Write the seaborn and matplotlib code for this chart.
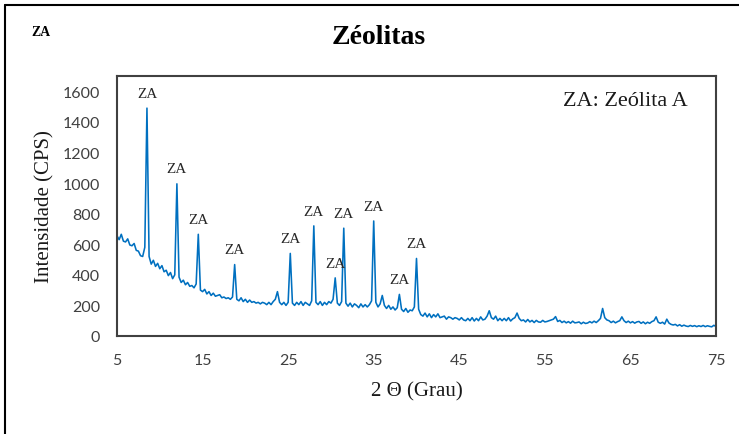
import numpy as np
import matplotlib
matplotlib.use("Agg")
import matplotlib.pyplot as plt
from matplotlib.lines import Line2D
import seaborn as sns

two_theta = np.arange(5, 75.01, 0.25)

cps = [
    655, 630, 665, 620, 615, 635, 595, 590, 605, 560, 555, 525, 520, 580, 1490, 520, 470, 495, 455, 475,   # 5 - 9.75
    440, 460, 420, 430, 395, 415, 375, 400, 995, 385, 350, 365, 335, 350, 325, 330, 315, 340, 665, 300,    # 10 - 14.75
    290, 305, 275, 290, 265, 280, 260, 265, 270, 250, 255, 245, 250, 240, 255, 467, 240, 230, 250, 225,    # 15 - 19.75
    240, 220, 235, 220, 225, 215, 220, 210, 220, 215, 205, 220, 205, 225, 240, 290, 220, 205, 220, 200,    # 20 - 24.75
    220, 540, 215, 200, 220, 205, 225, 200, 220, 210, 200, 230, 720, 220, 205, 225, 200, 220, 205, 225,    # 25 - 29.75
    215, 240, 380, 215, 200, 225, 705, 215, 195, 215, 190, 210, 200, 185, 210, 190, 205, 190, 205, 230,    # 30 - 34.75
    752, 220, 190, 210, 265, 200, 180, 200, 175, 190, 170, 185, 272, 175, 160, 180, 155, 170, 165, 190,    # 35 - 39.75
    507, 175, 140, 130, 150, 125, 145, 120, 140, 125, 145, 120, 125, 130, 110, 125, 120, 110, 120, 115,    # 40 - 44.75
    105, 120, 105, 100, 115, 100, 120, 98, 115, 100, 125, 105, 110, 130, 165, 120, 110, 130, 100, 115,     # 45 - 49.75
    100, 115, 100, 120, 98, 112, 120, 150, 115, 100, 105, 92, 108, 92, 102, 88, 102, 92, 90, 102,          # 50 - 54.75
    92, 95, 100, 105, 110, 127, 95, 102, 88, 97, 86, 94, 84, 97, 86, 88, 92, 80, 90, 82,                   # 55 - 59.75
    85, 94, 86, 97, 88, 100, 115, 180, 120, 105, 100, 88, 97, 86, 94, 100, 125, 100, 88, 97,               # 60 - 64.75
    86, 94, 84, 92, 95, 83, 92, 80, 90, 83, 94, 100, 125, 90, 83, 90, 78, 110, 85, 76,                     # 65 - 69.75
    72, 76, 66, 74, 64, 71, 65, 62, 69, 63, 68, 61, 67, 62, 69, 61, 67, 63, 60, 70,                        # 70 - 74.75
    62,                                                                                                    # 75
]
cps = np.array(cps)

# picos identificados como zeólita A
picos_za = [8.5, 12.0, 14.5, 18.75, 25.25, 28.0, 30.5, 31.5, 35.0, 38.0, 40.0]

x_ticks = [5, 15, 25, 35, 45, 55, 65, 75]
y_ticks = [0, 200, 400, 600, 800, 1000, 1200, 1400, 1600]

# --- figura ---
sns.set_theme(style="white")
plt.rcParams["font.family"] = ["Liberation Serif", "DejaVu Serif"]

fig = plt.figure(figsize=(7.39, 4.35), dpi=100)
ax = fig.add_axes([117 / 739, 1 - 337 / 435, 599 / 739, 260 / 435])

sns.lineplot(x=two_theta, y=cps, ax=ax, color="#0070C0", linewidth=1.15)

ax.set_xlim(5, 75)
ax.set_ylim(0, 1700)
ax.set_xticks(x_ticks)
ax.set_yticks(y_ticks)
ax.tick_params(length=0, pad=12, labelsize=11.5, colors="#404040")
for lab in ax.get_xticklabels() + ax.get_yticklabels():
    lab.set_fontfamily("Lato")

for s in ax.spines.values():
    s.set_color("#404040")
    s.set_linewidth(1.5)

ax.set_xlabel("2 \u0398 (Grau)", fontsize=15, color="#1a1a1a")
ax.set_ylabel("Intensidade (CPS)", fontsize=15, color="#1a1a1a")
ax.xaxis.set_label_coords(0.5, -0.175)
ax.yaxis.set_label_coords(-0.105, 0.5)

# etiquetas ZA sobre os picos
for t in picos_za:
    i = int(np.argmin(np.abs(two_theta - t)))
    ax.annotate("ZA", xy=(two_theta[i], cps[i]), xytext=(0, 6),
                textcoords="offset points", ha="center", va="bottom",
                fontsize=11, color="#262626")

fig.text(563 / 739, 1 - 101 / 435, "ZA: Zeólita A", ha="left", va="center",
         fontsize=16, color="#1a1a1a")
fig.text(379 / 739, 1 - 37 / 435, "Zéolitas", ha="center", va="center",
         fontsize=20, fontweight="bold", color="black")
fig.text(41 / 739, 1 - 33 / 435, "ZA", ha="center", va="center",
         fontsize=10, fontweight="bold", color="black")

# moldura externa (apenas topo e esquerda visíveis)
fig.add_artist(Line2D([5 / 739, 1], [1 - 6 / 435, 1 - 6 / 435],
                      transform=fig.transFigure, color="black", lw=1.5))
fig.add_artist(Line2D([5 / 739, 5 / 739], [0, 1 - 6 / 435],
                      transform=fig.transFigure, color="black", lw=1.5))

fig.savefig("out.png", dpi=100)
